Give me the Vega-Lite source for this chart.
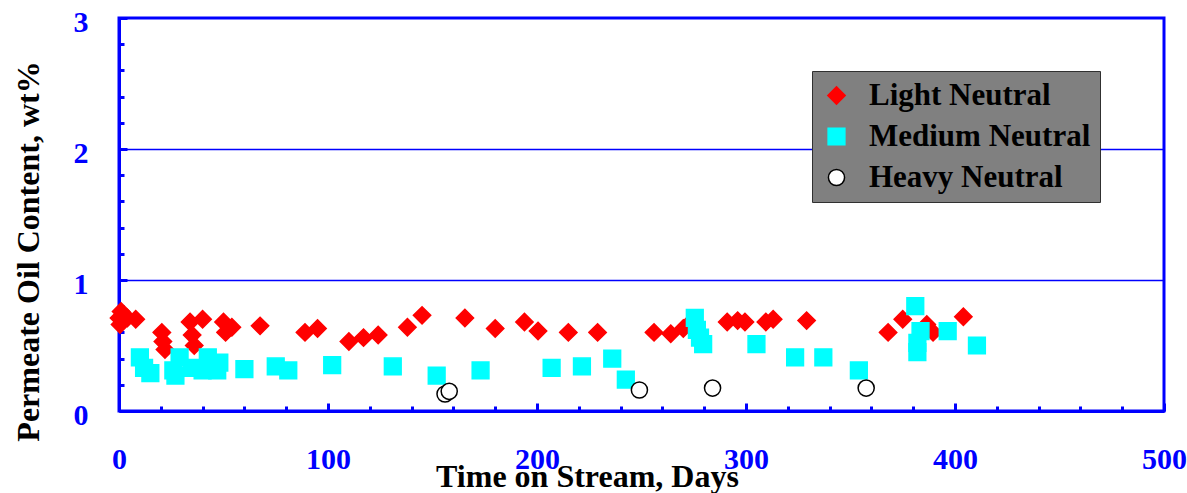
{
  "$schema": "https://vega.github.io/schema/vega-lite/v6.json",
  "width": 1045,
  "height": 393,
  "autosize": "none",
  "padding": {"left": 119, "top": 18, "right": 23, "bottom": 82},
  "background": "white",
  "config": {
    "view": {"stroke": "#0000ff", "strokeWidth": 3},
    "font": "Liberation Serif, Times New Roman, DejaVu Serif, serif",
    "legend": {"strokeColor": "#303030", "fillColor": "#808080"}
  },
  "data": {
    "values": [
      {"day": 0, "oil": 0.71, "series": "Light Neutral"},
      {"day": 1, "oil": 0.76, "series": "Light Neutral"},
      {"day": 0.5, "oil": 0.66, "series": "Light Neutral"},
      {"day": 4, "oil": 0.71, "series": "Light Neutral"},
      {"day": 8, "oil": 0.70, "series": "Light Neutral"},
      {"day": 20.5, "oil": 0.60, "series": "Light Neutral"},
      {"day": 21, "oil": 0.53, "series": "Light Neutral"},
      {"day": 22, "oil": 0.47, "series": "Light Neutral"},
      {"day": 34, "oil": 0.68, "series": "Light Neutral"},
      {"day": 35, "oil": 0.58, "series": "Light Neutral"},
      {"day": 36, "oil": 0.50, "series": "Light Neutral"},
      {"day": 40, "oil": 0.70, "series": "Light Neutral"},
      {"day": 50, "oil": 0.68, "series": "Light Neutral"},
      {"day": 51, "oil": 0.60, "series": "Light Neutral"},
      {"day": 54, "oil": 0.64, "series": "Light Neutral"},
      {"day": 67.5, "oil": 0.65, "series": "Light Neutral"},
      {"day": 89, "oil": 0.60, "series": "Light Neutral"},
      {"day": 95, "oil": 0.63, "series": "Light Neutral"},
      {"day": 110, "oil": 0.53, "series": "Light Neutral"},
      {"day": 117, "oil": 0.56, "series": "Light Neutral"},
      {"day": 124, "oil": 0.58, "series": "Light Neutral"},
      {"day": 138, "oil": 0.64, "series": "Light Neutral"},
      {"day": 145, "oil": 0.73, "series": "Light Neutral"},
      {"day": 165.5, "oil": 0.71, "series": "Light Neutral"},
      {"day": 180, "oil": 0.63, "series": "Light Neutral"},
      {"day": 194, "oil": 0.68, "series": "Light Neutral"},
      {"day": 200.5, "oil": 0.61, "series": "Light Neutral"},
      {"day": 215, "oil": 0.60, "series": "Light Neutral"},
      {"day": 229, "oil": 0.60, "series": "Light Neutral"},
      {"day": 256, "oil": 0.60, "series": "Light Neutral"},
      {"day": 264, "oil": 0.59, "series": "Light Neutral"},
      {"day": 270, "oil": 0.63, "series": "Light Neutral"},
      {"day": 272.5, "oil": 0.66, "series": "Light Neutral"},
      {"day": 291, "oil": 0.68, "series": "Light Neutral"},
      {"day": 296, "oil": 0.69, "series": "Light Neutral"},
      {"day": 299.5, "oil": 0.68, "series": "Light Neutral"},
      {"day": 309.5, "oil": 0.68, "series": "Light Neutral"},
      {"day": 313, "oil": 0.70, "series": "Light Neutral"},
      {"day": 329, "oil": 0.69, "series": "Light Neutral"},
      {"day": 368, "oil": 0.60, "series": "Light Neutral"},
      {"day": 375, "oil": 0.70, "series": "Light Neutral"},
      {"day": 386.5, "oil": 0.66, "series": "Light Neutral"},
      {"day": 389.5, "oil": 0.60, "series": "Light Neutral"},
      {"day": 404, "oil": 0.72, "series": "Light Neutral"},
      {"day": 10, "oil": 0.41, "series": "Medium Neutral"},
      {"day": 12, "oil": 0.33, "series": "Medium Neutral"},
      {"day": 15, "oil": 0.29, "series": "Medium Neutral"},
      {"day": 29, "oil": 0.41, "series": "Medium Neutral"},
      {"day": 26, "oil": 0.31, "series": "Medium Neutral"},
      {"day": 27, "oil": 0.27, "series": "Medium Neutral"},
      {"day": 35, "oil": 0.33, "series": "Medium Neutral"},
      {"day": 42.5, "oil": 0.41, "series": "Medium Neutral"},
      {"day": 40, "oil": 0.31, "series": "Medium Neutral"},
      {"day": 47, "oil": 0.31, "series": "Medium Neutral"},
      {"day": 48, "oil": 0.37, "series": "Medium Neutral"},
      {"day": 60, "oil": 0.32, "series": "Medium Neutral"},
      {"day": 75, "oil": 0.34, "series": "Medium Neutral"},
      {"day": 81, "oil": 0.31, "series": "Medium Neutral"},
      {"day": 102, "oil": 0.35, "series": "Medium Neutral"},
      {"day": 131, "oil": 0.34, "series": "Medium Neutral"},
      {"day": 152, "oil": 0.27, "series": "Medium Neutral"},
      {"day": 173, "oil": 0.31, "series": "Medium Neutral"},
      {"day": 207, "oil": 0.33, "series": "Medium Neutral"},
      {"day": 221.5, "oil": 0.34, "series": "Medium Neutral"},
      {"day": 236, "oil": 0.40, "series": "Medium Neutral"},
      {"day": 242.5, "oil": 0.24, "series": "Medium Neutral"},
      {"day": 275.5, "oil": 0.71, "series": "Medium Neutral"},
      {"day": 276.5, "oil": 0.62, "series": "Medium Neutral"},
      {"day": 278, "oil": 0.56, "series": "Medium Neutral"},
      {"day": 279.5, "oil": 0.51, "series": "Medium Neutral"},
      {"day": 305, "oil": 0.51, "series": "Medium Neutral"},
      {"day": 323.5, "oil": 0.41, "series": "Medium Neutral"},
      {"day": 337, "oil": 0.41, "series": "Medium Neutral"},
      {"day": 354, "oil": 0.31, "series": "Medium Neutral"},
      {"day": 381, "oil": 0.80, "series": "Medium Neutral"},
      {"day": 383.5, "oil": 0.61, "series": "Medium Neutral"},
      {"day": 382, "oil": 0.52, "series": "Medium Neutral"},
      {"day": 382, "oil": 0.45, "series": "Medium Neutral"},
      {"day": 396.5, "oil": 0.61, "series": "Medium Neutral"},
      {"day": 410.5, "oil": 0.50, "series": "Medium Neutral"},
      {"day": 156, "oil": 0.13, "series": "Heavy Neutral"},
      {"day": 158, "oil": 0.15, "series": "Heavy Neutral"},
      {"day": 249, "oil": 0.16, "series": "Heavy Neutral"},
      {"day": 284, "oil": 0.175, "series": "Heavy Neutral"},
      {"day": 357.5, "oil": 0.175, "series": "Heavy Neutral"}
    ]
  },
  "mark": {"type": "point", "filled": true, "strokeWidth": 1.5, "opacity": 1},
  "encoding": {
    "x": {
      "field": "day",
      "type": "quantitative",
      "scale": {"domain": [0, 500], "nice": false, "zero": false},
      "axis": {
        "values": [0, 20, 40, 60, 80, 100, 120, 140, 160, 180, 200, 220, 240, 260, 280, 300, 320, 340, 360, 380, 400, 420, 440, 460, 480, 500],
        "labelExpr": "datum.value % 100 === 0 ? '' + datum.value : ''",
        "title": "Time on Stream, Days",
        "grid": false,
        "domainColor": "#0000ff",
        "domainWidth": 3,
        "tickColor": "#0000ff",
        "tickWidth": 3,
        "tickSize": {"condition": {"test": "datum.value % 100 === 0", "value": -8}, "value": -5},
        "labelColor": "#0000ff",
        "labelFont": "Liberation Serif, Times New Roman, DejaVu Serif, serif",
        "labelFontSize": 30,
        "labelFontWeight": "bold",
        "labelPadding": 41,
        "labelFlush": false,
        "labelOverlap": false,
        "titleFont": "Liberation Serif, Times New Roman, DejaVu Serif, serif",
        "titleFontSize": 32,
        "titleFontWeight": "bold",
        "titleColor": "#000000",
        "titleX": 468,
        "titleY": 75,
        "titleAlign": "center",
        "titleBaseline": "alphabetic"
      }
    },
    "y": {
      "field": "oil",
      "type": "quantitative",
      "scale": {"domain": [0, 3], "nice": false, "zero": true},
      "axis": {
        "values": [0, 0.2, 0.4, 0.6, 0.8, 1, 1.2, 1.4, 1.6, 1.8, 2, 2.2, 2.4, 2.6, 2.8, 3],
        "labelExpr": "datum.value % 1 === 0 ? '' + datum.value : ''",
        "title": "Permeate Oil Content, wt%",
        "grid": true,
        "gridColor": "#0000ff",
        "gridWidth": 1.5,
        "gridOpacity": {"condition": {"test": "datum.value === 1 || datum.value === 2", "value": 1}, "value": 0},
        "domainColor": "#0000ff",
        "domainWidth": 3,
        "tickColor": "#0000ff",
        "tickWidth": 3,
        "tickSize": {"condition": {"test": "datum.value % 1 === 0", "value": -8}, "value": -5},
        "labelColor": "#0000ff",
        "labelFont": "Liberation Serif, Times New Roman, DejaVu Serif, serif",
        "labelFontSize": 30,
        "labelFontWeight": "bold",
        "labelPadding": 39,
        "labelOffset": 4,
        "labelFlush": false,
        "labelOverlap": false,
        "titleFont": "Liberation Serif, Times New Roman, DejaVu Serif, serif",
        "titleFontSize": 32,
        "titleFontWeight": "bold",
        "titleColor": "#000000",
        "titleX": -91,
        "titleY": 233,
        "titleAlign": "center",
        "titleBaseline": "middle",
        "titleAngle": -90
      }
    },
    "shape": {
      "field": "series",
      "type": "nominal",
      "scale": {"domain": ["Light Neutral", "Medium Neutral", "Heavy Neutral"], "range": ["diamond", "square", "circle"]},
      "legend": {
        "title": null,
        "orient": "none",
        "legendX": 693,
        "legendY": 53,
        "padding": 9,
        "labelFont": "Liberation Serif, Times New Roman, DejaVu Serif, serif",
        "labelFontSize": 31,
        "labelFontWeight": "bold",
        "labelColor": "#000000",
        "labelOffset": 17,
        "rowPadding": 9,
        "labelLimit": 400
      }
    },
    "fill": {
      "field": "series",
      "type": "nominal",
      "scale": {"domain": ["Light Neutral", "Medium Neutral", "Heavy Neutral"], "range": ["#ff0000", "#00ffff", "#ffffff"]},
      "legend": {"title": null}
    },
    "stroke": {
      "field": "series",
      "type": "nominal",
      "scale": {"domain": ["Light Neutral", "Medium Neutral", "Heavy Neutral"], "range": ["#ff0000", "#00ffff", "#000000"]},
      "legend": {"title": null}
    },
    "size": {
      "field": "series",
      "type": "nominal",
      "scale": {"domain": ["Light Neutral", "Medium Neutral", "Heavy Neutral"], "range": [300, 260, 170]},
      "legend": {"title": null}
    }
  }
}
